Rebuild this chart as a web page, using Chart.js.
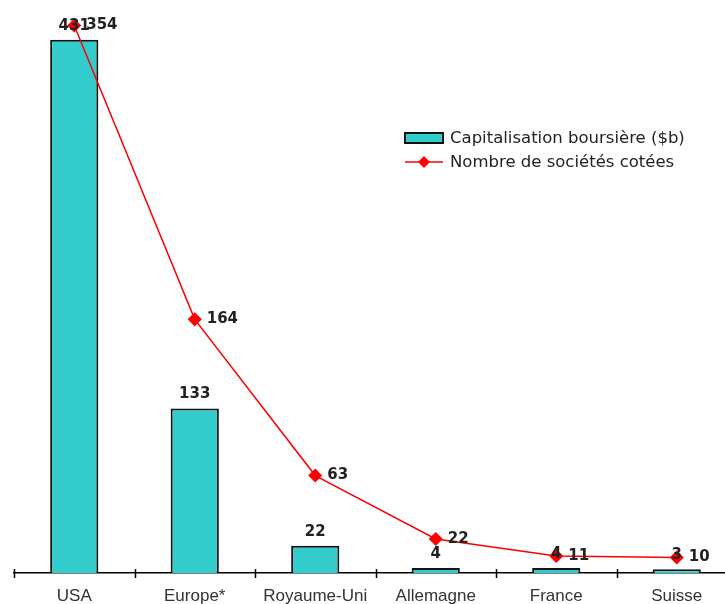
<!DOCTYPE html>
<html>
<head>
<meta charset="utf-8">
<script src="https://cdn.jsdelivr.net/npm/chart.js@4"></script>
<style>
  html, body { margin: 0; padding: 0; background: #fff; overflow: hidden; }
  #chart { display: block; }
</style>
</head>
<body>
<canvas id="chart" width="750" height="604"></canvas>
<script>
const categories = ["USA", "Europe*", "Royaume-Uni", "Allemagne", "France", "Suisse"];
const capitalisation = [431, 133, 22, 4, 4, 3];
const societes = [354, 164, 63, 22, 11, 10];
const seriesNames = ["Capitalisation boursière ($b)", "Nombre de sociétés cotées"];

const BAR_FILL = "#33CCCC";
const LINE_RED = "#FF0000";
const TEXT = "#222";

// value labels: above bars, right of line points
const valueLabels = {
  id: "valueLabels",
  afterDatasetsDraw(chart) {
    const ctx = chart.ctx;
    ctx.save();
    ctx.fillStyle = TEXT;
    ctx.font = "bold 15px 'DejaVu Sans'";
    chart.data.datasets.forEach((ds, di) => {
      const meta = chart.getDatasetMeta(di);
      meta.data.forEach((el, i) => {
        if (ds.type === "bar") {
          ctx.textAlign = "center";
          ctx.textBaseline = "alphabetic";
          ctx.fillText(ds.data[i], el.x, el.y - 10);
        } else {
          ctx.textAlign = "left";
          ctx.textBaseline = "middle";
          ctx.fillText(ds.data[i], el.x + 12, el.y);
        }
      });
    });
    ctx.restore();
  }
};

// tick marks at category boundaries, crossing the axis
const crossTicks = {
  id: "crossTicks",
  afterDraw(chart) {
    const x = chart.scales.x;
    const ctx = chart.ctx;
    const step = x.getPixelForValue(1) - x.getPixelForValue(0);
    const y0 = chart.chartArea.bottom;
    ctx.save();
    ctx.strokeStyle = "#000";
    ctx.lineWidth = 1.5;
    for (let i = 0; i <= categories.length; i++) {
      const px = Math.round(x.getPixelForValue(0) - step / 2 + i * step) + 0.5;
      ctx.beginPath();
      ctx.moveTo(px, y0 - 4);
      ctx.lineTo(px, y0 + 5);
      ctx.stroke();
    }
    ctx.restore();
  }
};

// legend drawn inside the plot, upper right
const boxLegend = {
  id: "boxLegend",
  afterDraw(chart) {
    const ctx = chart.ctx;
    const lx = 405, ly = 138, gap = 24;
    ctx.save();
    ctx.font = "16.5px 'DejaVu Sans'";
    ctx.textAlign = "left";
    ctx.textBaseline = "middle";
    // bar swatch
    ctx.fillStyle = BAR_FILL;
    ctx.fillRect(lx, ly - 5, 38, 10);
    ctx.strokeStyle = "#111";
    ctx.lineWidth = 2;
    ctx.strokeRect(lx, ly - 5, 38, 10);
    ctx.fillStyle = TEXT;
    ctx.fillText(chart.data.datasets[0].label, lx + 45, ly + 1);
    // line swatch
    const y2 = ly + gap;
    ctx.strokeStyle = LINE_RED;
    ctx.lineWidth = 1.5;
    ctx.beginPath();
    ctx.moveTo(lx, y2);
    ctx.lineTo(lx + 38, y2);
    ctx.stroke();
    ctx.fillStyle = LINE_RED;
    ctx.beginPath();
    ctx.moveTo(lx + 19, y2 - 6);
    ctx.lineTo(lx + 25, y2);
    ctx.lineTo(lx + 19, y2 + 6);
    ctx.lineTo(lx + 13, y2);
    ctx.closePath();
    ctx.fill();
    ctx.fillStyle = TEXT;
    ctx.fillText(chart.data.datasets[1].label, lx + 45, y2 + 1);
    ctx.restore();
  }
};

new Chart(document.getElementById("chart"), {
  type: "bar",
  data: {
    labels: categories,
    datasets: [
      {
        type: "bar",
        label: seriesNames[0],
        data: capitalisation,
        backgroundColor: BAR_FILL,
        borderColor: "#111",
        borderWidth: 2,
        barPercentage: 0.4,
        categoryPercentage: 1,
        yAxisID: "yBar",
        order: 2
      },
      {
        type: "line",
        label: seriesNames[1],
        data: societes,
        borderColor: LINE_RED,
        borderWidth: 1.5,
        tension: 0,
        pointStyle: "rectRot",
        pointRadius: 6,
        pointBackgroundColor: LINE_RED,
        pointBorderColor: LINE_RED,
        yAxisID: "yLine",
        order: 1
      }
    ]
  },
  options: {
    responsive: false,
    animation: false,
    layout: { padding: { left: 14, right: 13, top: 10, bottom: 0 } },
    plugins: { legend: { display: false }, tooltip: { enabled: false } },
    scales: {
      x: {
        grid: { display: false, drawTicks: false },
        border: { display: true, color: "#000", width: 1.5 },
        ticks: { color: "#333", font: { family: "Liberation Sans", size: 17 }, padding: 13, maxRotation: 0 },
        afterFit(s) { s.height = 31; }
      },
      yBar: { display: false, min: 0, max: 455 },
      yLine: { display: false, min: 0, max: 364 }
    }
  },
  plugins: [valueLabels, crossTicks, boxLegend]
});
</script>
</body>
</html>
